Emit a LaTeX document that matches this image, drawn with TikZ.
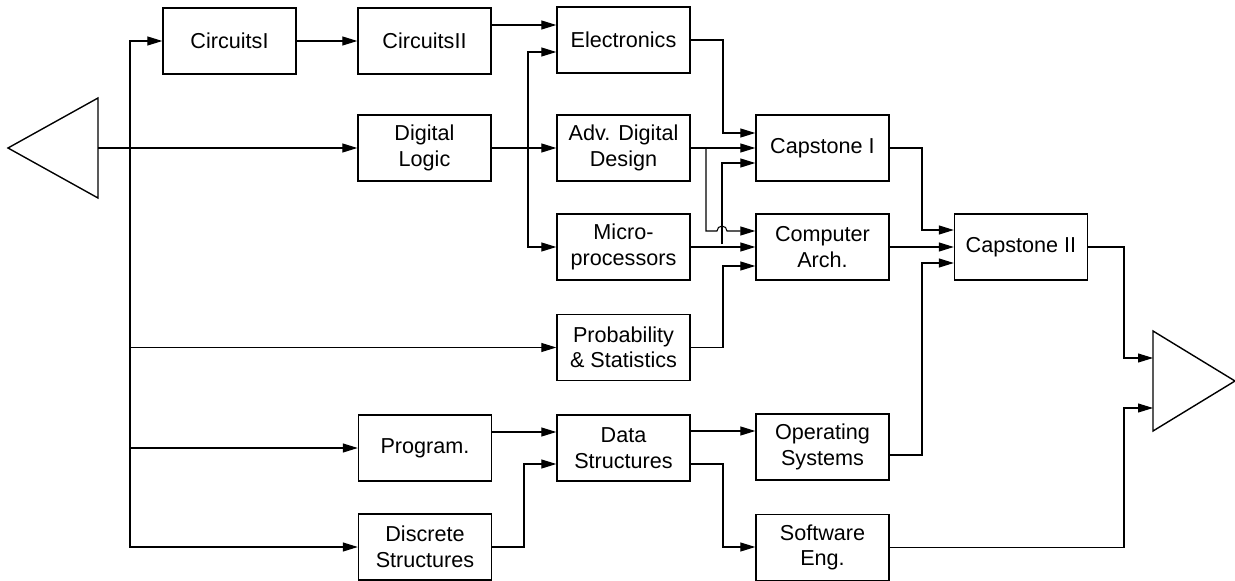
\documentclass[tikz,border=0pt]{standalone}
\usepackage{fontspec}
\setmainfont{Liberation Sans}
\usetikzlibrary{arrows.meta}

\begin{document}
\begin{tikzpicture}[x=0.02cm, y=-0.02cm, >={Triangle[length=3mm,width=1.8mm]},
		box/.style={draw, line width=0.8pt, minimum width=2.66cm, minimum height=1.32cm, inner sep=0pt, align=center, font=\fontsize{12.3}{14.5}\selectfont},
		wire/.style={->, line width=0.6pt}]
		\useasboundingbox (0,0) rectangle (1235,581);
		\draw [line width=0.8pt](8,148)--(98,98)--(98,198)--cycle;
		\draw [line width=0.8pt](1153,331)--(1235,381)--(1153,431)--cycle;
		\coordinate (src) at (98,148);
		\coordinate (bus) at (130,148);
		\coordinate (dst1) at (1153,358);
		\coordinate (dst2) at (1153,408);

		\node [box] (c1) at (229.5,41) {CircuitsI};
		\node [box] (c2) at (424.5,41) {CircuitsII};
		\node [box] (dl) at (424.5,148) {Digital\\Logic};
		\node [box] (el) at (623.5,40) {Electronics};
		\node [box] (add) at (623.5,148) {Adv. Digital\\Design};
		\node [box] (mp) at (623.5,247) {Micro-\\processors};
		\node [box] (ps) at (623.5,347.5) {Probability\\\& Statistics};
		\node [box] (pg) at (425,448) {Program.};
		\node [box] (ds) at (623.5,448) {Data\\Structures};
		\node [box] (dis) at (425,547) {Discrete\\Structures};
		\node [box] (cap1) at (822.5,148) {Capstone I};
		\node [box] (ca) at (822.5,247) {Computer\\Arch.};
		\node [box] (os) at (822.5,447) {Operating\\Systems};
		\node [box] (se) at (822.5,547.5) {Software\\Eng.};
		\node [box] (cap2) at (1021,247) {Capstone II};

		\draw [wire](src)--(dl.west);
		\draw [wire](bus)|-(c1.west);
		\draw [wire](bus)|-(ps.west);
		\draw [wire](bus)|-(pg.west);
		\draw [wire](bus)|-(dis.west);
		\draw [wire](c1)--(c2);
		\draw [wire](c2.east |- 0,25)--(el.west |- 0,25);
		\draw [wire](dl)--(add);
		\draw [wire](528,148)|-(el.west |- 0,52);
		\draw [wire](528,148)|-(mp.west);
		\draw [wire](el.east)-|(723,133)--(cap1.west |- 0,133);
		\draw [wire](add)--(cap1);
		\draw [wire](706,148)|-(717,231) arc[start angle=180, end angle=0, radius=0.1cm]--(ca.west |- 0,231);
		\draw [wire](722,244)|-(cap1.west |- 0,163);
		\draw [wire](mp)--(ca);
		\draw [wire](ps.east)-|(723,266)--(ca.west |- 0,266);
		\draw [wire](cap1.east)-|(922,230)--(cap2.west |- 0,230);
		\draw [wire](ca)--(cap2);
		\draw [wire](os.east |- 0,455)-|(922,263)--(cap2.west |- 0,263);
		\draw [wire](cap2.east)-|(1124,358)--(dst1);
		\draw [wire](se.east)-|(1124,408)--(dst2);
		\draw [wire](pg.east |- 0,432)--(ds.west |- 0,432);
		\draw [wire](dis.east)-|(524,464)--(ds.west |- 0,464);
		\draw [wire](ds.east |- 0,431)--(os.west |- 0,431);
		\draw [wire](ds.east |- 0,464)-|(723,547)--(se.west |- 0,547);
	\end{tikzpicture}
\end{document}
